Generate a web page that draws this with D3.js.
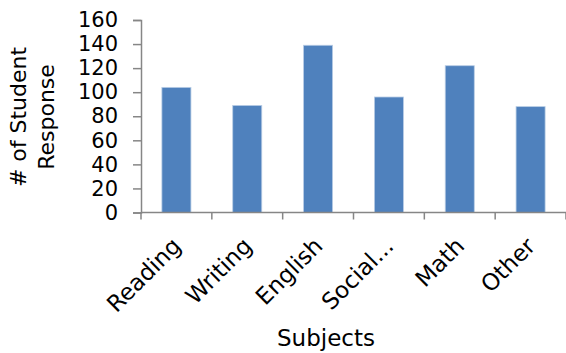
<!DOCTYPE html>
<html>
<head>
<meta charset="utf-8">
<script src="https://cdn.jsdelivr.net/npm/d3@7"></script>
<style>
  html, body { margin: 0; padding: 0; background: #fff; }
  svg { display: block; }
  text { font-family: "DejaVu Sans", Verdana, sans-serif; fill: #000; }
</style>
</head>
<body>
<svg id="chart" width="566" height="353"></svg>
<script>
// Student responses by subject
const subjects = ["Reading", "Writing", "English", "Social...", "Math", "Other"];
const responses = [104, 89, 139, 96, 122, 88];
const yTicks = [0, 20, 40, 60, 80, 100, 120, 140, 160];

const svg = d3.select("#chart");
const margin = { left: 141, top: 20 };
const W = 566;
const plotBottom = 212.5;

const x = d3.scaleBand()
  .domain(subjects)
  .range([margin.left, W])
  .paddingInner(0.59)
  .paddingOuter(0.295);

const y = d3.scaleLinear().domain([0, 160]).range([plotBottom, margin.top]);

const axisColor = "#868686";

// bars
svg.append("g").selectAll("rect")
  .data(subjects)
  .join("rect")
  .attr("x", d => x(d))
  .attr("y", (d, i) => y(responses[i]))
  .attr("width", x.bandwidth())
  .attr("height", (d, i) => plotBottom - y(responses[i]))
  .attr("fill", "#4F81BD")
  .attr("stroke", "#B9CDE5")
  .attr("stroke-width", 0.8);

// y axis
const yAxis = svg.append("g")
  .attr("transform", `translate(${margin.left},0)`)
  .call(d3.axisLeft(y).tickValues(yTicks).tickSize(8).tickPadding(15));
yAxis.select(".domain").attr("stroke", axisColor).attr("stroke-width", 1.5);
yAxis.selectAll(".tick line").attr("stroke", axisColor).attr("stroke-width", 1.5);
yAxis.selectAll(".tick text")
  .style("font-family", "'DejaVu Sans', Verdana, sans-serif")
  .attr("font-size", 21)
  .attr("fill", "#000");

// x axis with category boundary ticks
const step = x.step();
const boundaries = d3.range(subjects.length + 1).map(i => margin.left + i * step);
const xg = svg.append("g");
xg.append("line")
  .attr("x1", margin.left).attr("x2", W)
  .attr("y1", plotBottom).attr("y2", plotBottom)
  .attr("stroke", axisColor).attr("stroke-width", 1.5);
xg.selectAll("line.tk")
  .data(boundaries)
  .join("line")
  .attr("class", "tk")
  .attr("x1", d => d).attr("x2", d => d)
  .attr("y1", plotBottom).attr("y2", plotBottom + 7)
  .attr("stroke", axisColor).attr("stroke-width", 1.5);

// rotated category labels
xg.selectAll("text.cat")
  .data(subjects)
  .join("text")
  .attr("class", "cat")
  .attr("font-size", 23)
  .attr("text-anchor", "end")
  .attr("transform", d => {
    const cx = x(d) + x.bandwidth() / 2 + 6;
    return `translate(${cx},${plotBottom + 35}) rotate(-45)`;
  })
  .text(d => d);

// axis titles
svg.append("text")
  .attr("x", 326).attr("y", 346)
  .attr("text-anchor", "middle")
  .attr("font-size", 23)
  .text("Subjects");

const yTitle = svg.append("text")
  .attr("transform", "translate(0,117) rotate(-90)")
  .attr("text-anchor", "middle")
  .attr("font-size", 22);
yTitle.append("tspan").attr("x", 0).attr("y", 26).text("# of Student");
yTitle.append("tspan").attr("x", 0).attr("y", 54).text("Response");
</script>
</body>
</html>
